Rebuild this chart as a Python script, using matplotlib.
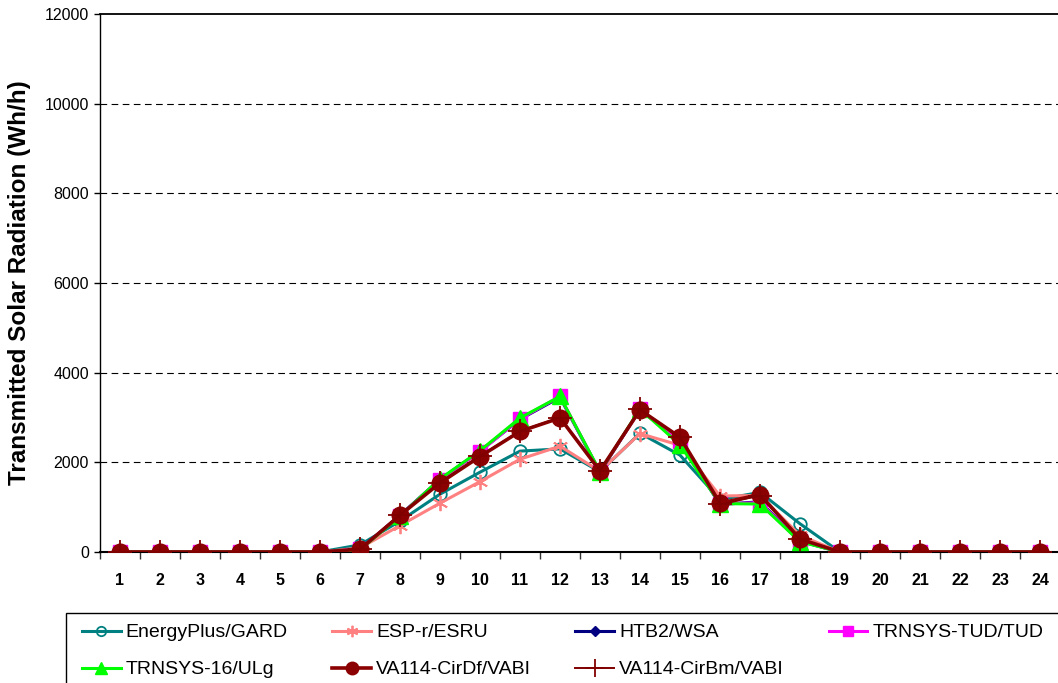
import matplotlib
matplotlib.use("Agg")
import matplotlib.pyplot as plt
from matplotlib.ticker import FixedLocator
from matplotlib.patches import Rectangle

plt.rcParams['font.family'] = ['Liberation Sans', 'DejaVu Sans']

hours = list(range(1, 25))
z6 = [0] * 6
eplus = z6 + [160, 690, 1290, 1780, 2250, 2300, 1790, 2650, 2160, 1170, 1330, 630] + z6
espr = z6 + [90, 590, 1090, 1570, 2070, 2360, 1800, 2640, 2380, 1250, 1260, 370] + z6
htb2 = z6 + [60, 820, 1620, 2250, 2960, 3450, 1780, 3180, 2450, 1060, 1120, 240] + z6
trn_tud = z6 + [60, 810, 1610, 2240, 2970, 3470, 1780, 3180, 2470, 1070, 1100, 240] + z6
trn_16 = z6 + [50, 800, 1630, 2260, 2990, 3470, 1790, 3190, 2390, 1080, 1070, 230] + z6
cirdf = z6 + [60, 820, 1540, 2130, 2690, 2990, 1810, 3170, 2560, 1090, 1280, 290] + z6
cirbm = z6 + [60, 830, 1550, 2140, 2700, 3000, 1810, 3180, 2560, 1060, 1260, 280] + z6

names = ["EnergyPlus/GARD", "ESP-r/ESRU", "HTB2/WSA", "TRNSYS-TUD/TUD",
         "TRNSYS-16/ULg", "VA114-CirDf/VABI", "VA114-CirBm/VABI"]
yticks = [0, 2000, 4000, 6000, 8000, 10000, 12000]

W, H = 1058, 683
fig = plt.figure(figsize=(W/100, H/100), dpi=100)
ax = fig.add_axes([100/W, 131/H, 960/W, 538/H])

lw = 2.2
h = []
h += ax.plot(hours, eplus, color='#008080', lw=lw, marker='o', ms=9, mfc='none', mec='#008080', mew=1.3, label=names[0], zorder=3)
h += ax.plot(hours, espr, color='#FF8080', lw=lw, marker=(6, 2, 0), ms=11, mec='#FF8080', mew=1.3, label=names[1], zorder=3)
h += ax.plot(hours, htb2, color='#000080', lw=lw, marker='D', ms=7, mfc='#000080', mec='#000080', label=names[2], zorder=4)
h += ax.plot(hours, trn_tud, color='#FF00FF', lw=lw, marker='s', ms=10, mfc='#FF00FF', mec='#FF00FF', label=names[3], zorder=5)
h += ax.plot(hours, trn_16, color='#00FF00', lw=lw, marker='^', ms=11, mfc='#00FF00', mec='#00FF00', label=names[4], zorder=6)
h += ax.plot(hours, cirdf, color='#8B0000', lw=lw + 0.4, marker='o', ms=12, mfc='#8B0000', mec='#8B0000', label=names[5], zorder=7)
h += ax.plot(hours, cirbm, color='#800000', lw=1.4, marker='+', ms=17, mec='#800000', mew=1.3, label=names[6], zorder=8)

ax.set_xlim(0.5, 24.5)
ax.set_ylim(0, 12000)
ax.set_xticks(hours)
ax.set_xticklabels([str(v) for v in hours], fontweight='bold', fontsize=11.5)
ax.xaxis.set_minor_locator(FixedLocator([v + 0.5 for v in range(0, 25)]))
ax.tick_params(axis='x', which='major', length=0, pad=15)
ax.tick_params(axis='x', which='minor', length=5, width=1, direction='out', color='#333333')
ax.set_yticks(yticks)
ax.set_yticklabels([str(v) for v in yticks], fontsize=11.5)
ax.tick_params(axis='y', which='major', length=4, width=1, direction='out', pad=4)

for v in yticks[1:-1]:
    ax.axhline(v, color='black', lw=0.8, ls=(0, (6, 4)), zorder=1)

for s in ['left', 'bottom', 'top']:
    ax.spines[s].set_color('black')
ax.spines['left'].set_linewidth(1.0)
ax.spines['bottom'].set_linewidth(1.5)
ax.spines['top'].set_linewidth(1.3)
ax.spines['right'].set_visible(False)

ax.set_ylabel("Transmitted Solar Radiation (Wh/h)", fontsize=17.5, fontweight='bold')
ax.yaxis.set_label_coords(-69/960, 0.5)

# legend frame
fig.patches.append(Rectangle((66/W, -10/H), 1010/W, (683 - 613 + 10)/H, transform=fig.transFigure,
                             fill=False, edgecolor='black', lw=1.0))

order = [0, 4, 1, 5, 2, 6, 3]
leg = fig.legend([h[i] for i in order], [names[i] for i in order],
                 loc='upper left', bbox_to_anchor=(72/W, 0, 981/W, 69/H),
                 ncol=4, mode='expand', fontsize=14, frameon=False,
                 handlelength=2.0, handletextpad=0.25, markerscale=0.75,
                 borderaxespad=0.0, columnspacing=1.0, labelspacing=1.0, borderpad=0.5)

fig.savefig("out.png", dpi=100)
